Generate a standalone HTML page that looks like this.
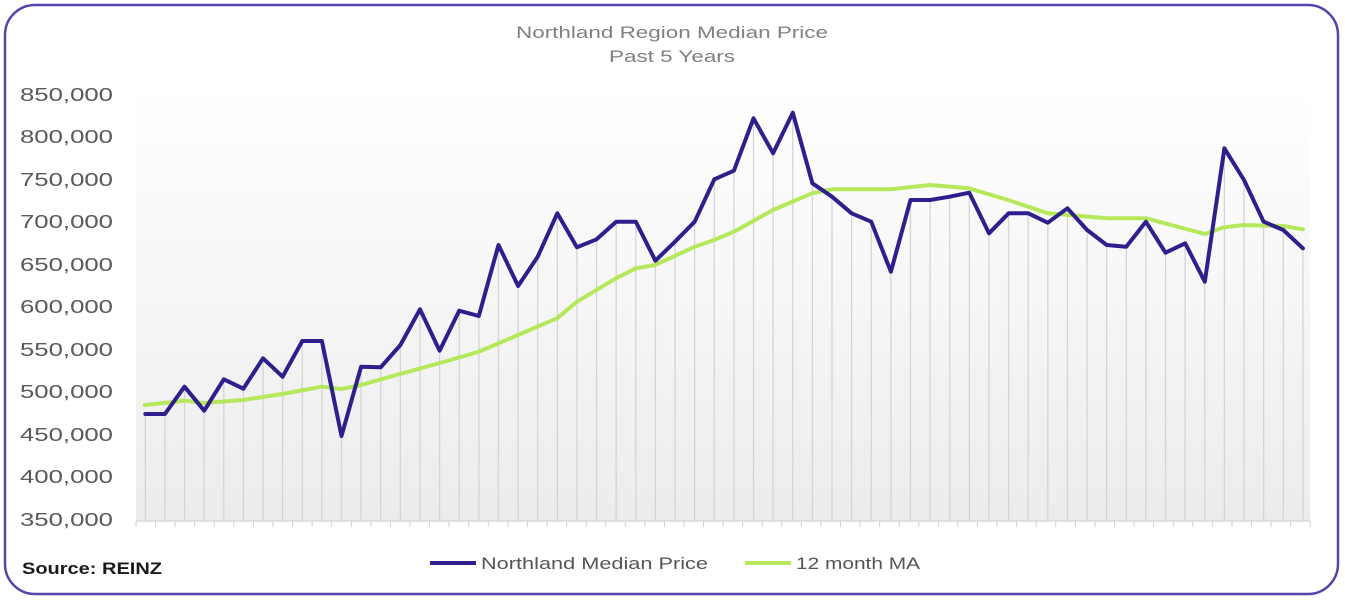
<!DOCTYPE html>
<html><head><meta charset="utf-8"><style>
html,body{margin:0;padding:0;background:#fff;}
svg{display:block;font-family:"Liberation Sans",sans-serif;}
</style></head><body>
<svg width="1345" height="600" viewBox="0 0 1345 600" xmlns="http://www.w3.org/2000/svg">
<defs>
<linearGradient id="bg" x1="0" y1="0" x2="0" y2="1">
<stop offset="0" stop-color="#ffffff"/><stop offset="1" stop-color="#ececec"/>
</linearGradient>
</defs>
<rect x="5" y="5" width="1333" height="589" rx="30" ry="30" fill="#fff" stroke="#5246a8" stroke-width="2.5"/>
<rect x="136" y="90" width="1174" height="431" fill="url(#bg)"/>
<text x="516" y="38" font-size="17" fill="#808080" textLength="312" lengthAdjust="spacingAndGlyphs">Northland Region Median Price</text>
<text x="609" y="62" font-size="17" fill="#808080" textLength="126" lengthAdjust="spacingAndGlyphs">Past 5 Years</text>
<g font-size="18" fill="#5a5a5a">
<text x="20" y="101" textLength="93" lengthAdjust="spacingAndGlyphs">850,000</text>
<text x="20" y="143" textLength="93" lengthAdjust="spacingAndGlyphs">800,000</text>
<text x="20" y="186" textLength="93" lengthAdjust="spacingAndGlyphs">750,000</text>
<text x="20" y="228" textLength="93" lengthAdjust="spacingAndGlyphs">700,000</text>
<text x="20" y="271" textLength="93" lengthAdjust="spacingAndGlyphs">650,000</text>
<text x="20" y="313" textLength="93" lengthAdjust="spacingAndGlyphs">600,000</text>
<text x="20" y="356" textLength="93" lengthAdjust="spacingAndGlyphs">550,000</text>
<text x="20" y="398" textLength="93" lengthAdjust="spacingAndGlyphs">500,000</text>
<text x="20" y="441" textLength="93" lengthAdjust="spacingAndGlyphs">450,000</text>
<text x="20" y="483" textLength="93" lengthAdjust="spacingAndGlyphs">400,000</text>
<text x="20" y="526" textLength="93" lengthAdjust="spacingAndGlyphs">350,000</text>
</g>
<g id="drops" stroke="#d4d4d4" stroke-width="1.3"></g>
<g id="ticks" stroke="#cfcfcf" stroke-width="1"></g>
<line x1="136" y1="521" x2="1310" y2="521" stroke="#d9d9d9" stroke-width="1.5"/>
<polyline id="ma" fill="none" stroke="#b5e85a" stroke-width="4" stroke-linejoin="round" stroke-linecap="round" points="145,405 184.5,400.7 204,403 243,400 282.6,394 322,386.7 341.5,389 361,385 400,374 440,363 479,351.7 518,335 557,318.3 577,301.7 616,278.3 636,268.3 655,265 695,246.7 714,240 734,231.7 773,210 812,193.3 832,189.3 891,189.3 930,185 969,188.3 1008,200 1048,213.3 1107,218.3 1146,218.3 1205,234 1224,227.3 1244,225 1283,226 1303,229.3"/>
<polyline id="med" fill="none" stroke="#2d1f8c" stroke-width="4" stroke-linejoin="round" stroke-linecap="round"/>
<line x1="430" y1="563" x2="476" y2="563" stroke="#2d1f8c" stroke-width="4"/>
<text x="481" y="569" font-size="17" fill="#555" textLength="227" lengthAdjust="spacingAndGlyphs">Northland Median Price</text>
<line x1="745" y1="563" x2="791" y2="563" stroke="#b5e85a" stroke-width="4"/>
<text x="796" y="569" font-size="17" fill="#555" textLength="124" lengthAdjust="spacingAndGlyphs">12 month MA</text>
<text x="22" y="574" font-size="17" font-weight="bold" fill="#1a1a1a" textLength="140" lengthAdjust="spacingAndGlyphs">Source: REINZ</text>
</svg>
<script>
var ys=[414,414,386.7,410.7,379.3,388.7,358.3,376.7,341,341,436,366.7,367.3,345,309.3,350.7,310.7,316,245,286,256.7,213.3,247.3,239.3,221.7,221.7,260.7,241.7,221.7,179.3,170.7,118.3,153.3,112.7,183.3,196.7,213.3,221.7,271.7,200,200,196.7,192.7,233.3,213.3,213.3,222.7,208.3,230,245,246.7,221.7,252.7,243.3,281.7,148.3,180,221.7,230,248.3];
var ns="http://www.w3.org/2000/svg",pts=[],d=document.getElementById('drops'),t=document.getElementById('ticks');
for(var i=0;i<60;i++){var x=145.3+19.62*i;pts.push(x.toFixed(1)+","+ys[i]);
var l=document.createElementNS(ns,'line');l.setAttribute('x1',x);l.setAttribute('x2',x);l.setAttribute('y1',ys[i]);l.setAttribute('y2',521);d.appendChild(l);}
for(var k=0;k<=60;k++){var tx=136+19.57*k;var l2=document.createElementNS(ns,'line');l2.setAttribute('x1',tx);l2.setAttribute('x2',tx);l2.setAttribute('y1',521);l2.setAttribute('y2',527);t.appendChild(l2);}
document.getElementById('med').setAttribute('points',pts.join(' '));
</script>
</body></html>
